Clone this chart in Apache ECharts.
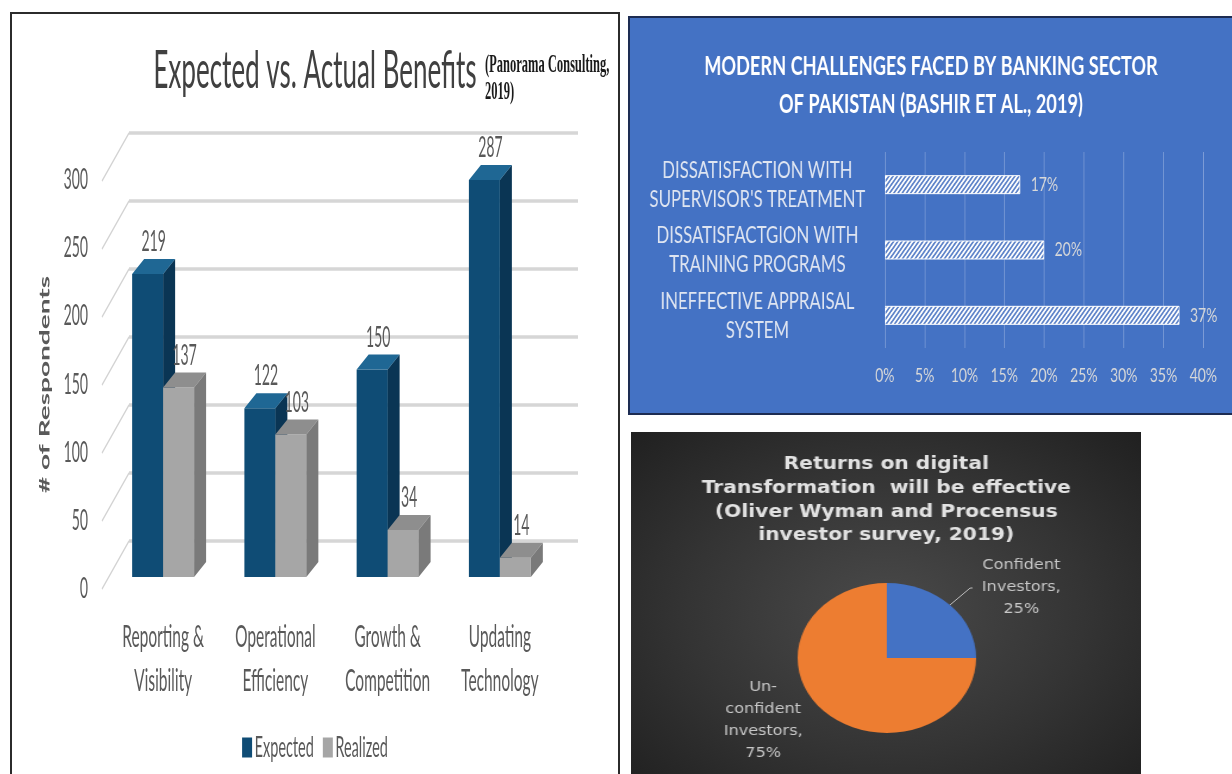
<!DOCTYPE html>
<html><head><meta charset="utf-8">
<script src="https://cdn.jsdelivr.net/npm/echarts@6/dist/echarts.min.js"></script>
<style>
html,body{margin:0;padding:0;width:1232px;height:774px;overflow:hidden;background:#fff;}
.frame{position:absolute;box-sizing:border-box;}
#f1{left:10px;top:12px;width:610px;height:790px;border:2px solid #2b2b2b;background:#fff;}
#f2{left:628px;top:16px;width:620px;height:399px;border:2px solid #1d2c52;background:#4472c4;}
#f3{left:631px;top:432px;width:510px;height:360px;background:radial-gradient(ellipse at 50% 50%,#4a4a4a 0%,#343434 55%,#202020 100%);}
.chart{position:absolute;transform-origin:0 0;}
#c1{left:12px;top:14px;width:1212px;height:760px;transform:scaleX(0.5);}
#c2{left:630px;top:18px;width:860px;height:394px;transform:scaleX(0.7);}
#c3{left:631px;top:432px;width:428.6px;height:342px;transform:scaleX(1.19);}
</style></head><body>
<div class="frame" id="f1"></div>
<div class="frame" id="f2"></div>
<div class="frame" id="f3"></div>
<div class="chart" id="c1"></div>
<div class="chart" id="c2"></div>
<div class="chart" id="c3"></div>
<script>
// ---------- data ----------
const benefitCategories = ['Reporting &\nVisibility', 'Operational\nEfficiency', 'Growth &\nCompetition', 'Updating\nTechnology'];
const expectedValues = [219, 122, 150, 287];
const realizedValues = [137, 103, 34, 14];
const benefitTicks = [0, 50, 100, 150, 200, 250, 300];

const challengeCategories = ['DISSATISFACTION WITH\nSUPERVISOR\'S TREATMENT', 'DISSATISFACTGION WITH\nTRAINING PROGRAMS', 'INEFFECTIVE APPRAISAL\nSYSTEM'];
const challengeValues = [17, 20, 37];

const investorNames = ['Confident\nInvestors', 'Un-\nconfident\nInvestors'];
const investorValues = [25, 75];

// ---------- chart 1 : 3D-look column chart ----------
const DEPTH_X = 24, DEPTH_Y = -15, BAR_FRAC = 0.276;
const expColors = {front: '#0f4c75', top: '#1f6794', side: '#0a3554'};
const realColors = {front: '#a6a6a6', top: '#8e8e8e', side: '#7a7a7a'};

function bar3d(k, col) {
  return function (params, api) {
    const ci = api.value(0), v = api.value(1);
    const base = api.coord([ci, 0]);
    const top = api.coord([ci, v]);
    const band = api.size([1, 0])[0];
    const w = band * BAR_FRAC;
    const x0 = base[0] - w + k * w;
    const dx = DEPTH_X, dy = DEPTH_Y;
    const yt = top[1], yb = base[1];
    return {
      type: 'group',
      children: [
        {type: 'polygon', shape: {points: [[x0 + w, yt], [x0 + w + dx, yt + dy], [x0 + w + dx, yb + dy], [x0 + w, yb]]}, style: {fill: col.side}},
        {type: 'rect', shape: {x: x0, y: yt, width: w, height: yb - yt}, style: {fill: col.front}},
        {type: 'polygon', shape: {points: [[x0, yt], [x0 + dx, yt + dy], [x0 + w + dx, yt + dy], [x0 + w, yt]]}, style: {fill: col.top}},
        {type: 'text', style: {text: String(v), x: x0 + w / 2 + dx / 2, y: yt + dy - 3, align: 'center', verticalAlign: 'bottom', fontFamily: 'Lato', fontSize: 28, fill: '#595959'}}
      ]
    };
  };
}

function diagonal(params, api) {
  const p = api.coord([api.value(0), api.value(1)]);
  return {type: 'line', shape: {x1: p[0], y1: p[1], x2: p[0] - 54, y2: p[1] + 48}, style: {stroke: '#d3d3d3', lineWidth: 2.2}};
}

const c1 = echarts.init(document.getElementById('c1'));
c1.setOption({
  animation: false,
  title: {text: 'Expected vs. Actual Benefits', left: 'center', top: 22,
    textStyle: {fontFamily: 'Lato', fontWeight: 'normal', fontSize: 52, lineHeight: 60, color: '#404040'}},
  graphic: [{type: 'text', left: 946, top: 38,
    style: {text: '(Panorama Consulting,\n2019)', font: 'bold 25px "Liberation Serif"', fill: '#1a1a1a', lineHeight: 27}}],
  legend: {top: 714, left: 'center', itemWidth: 20, itemHeight: 20, itemGap: 18, icon: 'rect',
    textStyle: {fontFamily: 'Lato', fontSize: 29, color: '#595959'}, data: ['Expected', 'Realized']},
  grid: [
    {left: 190, right: 124, top: 148, bottom: 197},
    {left: 234, right: 80, top: 119, bottom: 233},
    {left: 160, width: 10, top: 166, bottom: 185}
  ],
  xAxis: [
    {gridIndex: 0, type: 'category', data: benefitCategories, axisLine: {show: false}, axisTick: {show: false},
      axisLabel: {interval: 0, margin: 38, fontFamily: 'Lato', fontSize: 31, lineHeight: 44, color: '#595959'}},
    {gridIndex: 1, type: 'value', min: 0, max: 1, show: false},
    {gridIndex: 2, type: 'value', min: 0, max: 1, show: false}
  ],
  yAxis: [
    {gridIndex: 0, type: 'value', min: 0, max: 300, show: false},
    {gridIndex: 1, type: 'value', min: 0, max: 300, interval: 50, axisLine: {show: false}, axisTick: {show: false},
      axisLabel: {show: false}, splitLine: {lineStyle: {color: '#d6d6d6', width: 3.5}}},
    {gridIndex: 2, type: 'value', min: 0, max: 300, interval: 50, axisLine: {show: false}, axisTick: {show: false},
      splitLine: {show: false}, axisLabel: {margin: 8, fontFamily: 'Lato', fontSize: 28, color: '#595959'},
      name: '# of Respondents', nameLocation: 'middle', nameRotate: 90, nameGap: 80,
      nameTextStyle: {fontFamily: 'Lato', fontWeight: 'bold', fontSize: 28, color: '#595959'}}
  ],
  series: [
    {type: 'custom', xAxisIndex: 1, yAxisIndex: 1, silent: true, data: benefitTicks.map(t => [0, t]), renderItem: diagonal},
    {type: 'custom', name: 'Expected', xAxisIndex: 0, yAxisIndex: 0, itemStyle: {color: expColors.front},
      data: expectedValues.map((v, i) => [i, v]), renderItem: bar3d(0, expColors)},
    {type: 'custom', name: 'Realized', xAxisIndex: 0, yAxisIndex: 0, itemStyle: {color: realColors.front},
      data: realizedValues.map((v, i) => [i, v]), renderItem: bar3d(1, realColors)}
  ]
});

// ---------- chart 2 : horizontal hatched bars ----------
function makeHatch() {
  const c = document.createElement('canvas');
  c.width = 6; c.height = 6;
  const g = c.getContext('2d');
  g.fillStyle = '#ffffff'; g.fillRect(0, 0, 6, 6);
  g.strokeStyle = '#5a80c8'; g.lineWidth = 2;
  g.beginPath();
  g.moveTo(-1, 7); g.lineTo(7, -1);
  g.moveTo(-1, 1); g.lineTo(1, -1);
  g.moveTo(5, 7); g.lineTo(7, 5);
  g.stroke();
  return c;
}
const c2 = echarts.init(document.getElementById('c2'));
c2.setOption({
  animation: false,
  title: {text: 'MODERN CHALLENGES FACED BY BANKING SECTOR\nOF PAKISTAN (BASHIR ET AL., 2019)', left: 'center', top: 25,
    textStyle: {fontFamily: 'Lato', fontWeight: 'bold', fontSize: 26, lineHeight: 38, color: '#ffffff'}},
  grid: {left: 364, right: 41, top: 134, bottom: 64},
  xAxis: {type: 'value', min: 0, max: 40, interval: 5, axisLine: {show: false}, axisTick: {show: false},
    axisLabel: {formatter: '{value}%', margin: 18, fontFamily: 'Lato', fontSize: 20, color: '#d9d9d9'},
    splitLine: {lineStyle: {color: '#8faadc', width: 1}}},
  yAxis: {type: 'category', inverse: true, data: challengeCategories, axisLine: {show: false}, axisTick: {show: false},
    axisLabel: {align: 'center', margin: 182, fontFamily: 'Lato', fontSize: 24, lineHeight: 29, color: '#dfe5f1'}},
  series: [{type: 'bar', data: challengeValues, barWidth: 19,
    itemStyle: {color: {image: makeHatch(), repeat: 'repeat'}, borderColor: '#ffffff', borderWidth: 1},
    label: {show: true, position: 'right', distance: 15, formatter: '{c}%', fontFamily: 'Lato', fontSize: 20, color: '#d9d9d9'}}]
});

// ---------- chart 3 : pie ----------
const pieColors = ['#4472c4', '#ed7d31'];
const c3 = echarts.init(document.getElementById('c3'));
c3.setOption({
  animation: false,
  title: {text: 'Returns on digital\nTransformation  will be effective\n(Oliver Wyman and Procensus\ninvestor survey, 2019)',
    left: 'center', top: 16,
    textStyle: {fontFamily: 'DejaVu Sans', fontWeight: 'bold', fontSize: 17, lineHeight: 23.7, color: '#e2e2e2'}},
  series: [{
    type: 'pie', center: [215, 226], radius: 75, startAngle: 90, clockwise: true, avoidLabelOverlap: false,
    data: investorNames.map((n, i) => ({
      name: n, value: investorValues[i], itemStyle: {color: pieColors[i]},
      labelLine: i === 0 ? {show: true, length: 24, length2: 2} : {show: false, length: 14, length2: 0}
    })),
    label: {show: true, position: 'outside', distanceToLabelLine: 5,
      formatter: p => '{t|' + p.name + ',\n' + p.value + '%}',
      rich: {t: {fontFamily: 'DejaVu Sans', fontSize: 13.5, lineHeight: 22, color: '#c8c8c8', width: 72, align: 'center'}}},
    labelLine: {lineStyle: {color: '#bfbfbf', width: 1}}
  }]
});
</script>
</body></html>
